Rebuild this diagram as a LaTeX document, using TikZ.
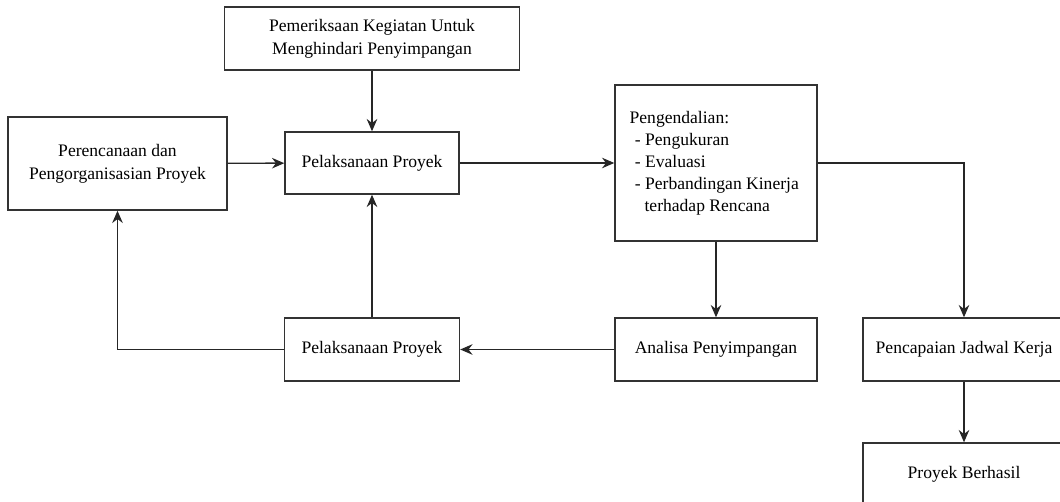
\documentclass[tikz,border=0pt]{standalone}
\usepackage{fontspec}
\setmainfont{Liberation Serif}
\usetikzlibrary{arrows.meta,positioning,calc}

\begin{document}
\begin{tikzpicture}[x=0.02cm,y=-0.02cm,>={Stealth[length=7pt,width=6pt]},
  box/.style={draw=black!80,line width=0.8pt,fill=white,align=center,inner sep=2pt,
    font=\rmfamily\fontsize{10pt}{13pt}\selectfont},
  link/.style={->,line width=0.8pt,draw=black!85}]
\useasboundingbox (0,0) rectangle (1060,502);
\node[box,minimum width=295*0.02cm,minimum height=63*0.02cm] (check) at (372,38.5) {Pemeriksaan Kegiatan Untuk\\Menghindari Penyimpangan};
\node[box,minimum width=219*0.02cm,minimum height=93*0.02cm] (plan) at (117.5,163.5) {Perencanaan dan\\Pengorganisasian Proyek};
\node[box,minimum width=174*0.02cm,minimum height=62*0.02cm] (exec) at (372,163) {Pelaksanaan Proyek};
\node[box,align=left,font=\rmfamily\fontsize{10pt}{12.5pt}\selectfont,minimum width=202*0.02cm,minimum height=156*0.02cm] (ctrl) at (716,163) {\hspace*{-2pt}Pengendalian:\\\hspace*{1pt}- Pengukuran\\\hspace*{1pt}- Evaluasi\\\hspace*{1pt}- Perbandingan Kinerja\\\hspace*{6.5pt}terhadap Rencana};
\node[box,minimum width=175*0.02cm,minimum height=63*0.02cm] (execb) at (372,349.5) {Pelaksanaan Proyek};
\node[box,minimum width=202*0.02cm,minimum height=63*0.02cm] (analysis) at (716,349.5) {Analisa Penyimpangan};
\node[box,minimum width=202*0.02cm,minimum height=63*0.02cm] (sched) at (964,349.5) {Pencapaian Jadwal Kerja};
\node[box,minimum width=202*0.02cm,minimum height=63*0.02cm] (done) at (964,474.5) {Proyek Berhasil};
\draw[link] (check) -- (exec);
\draw[link] (plan) -- (exec);
\draw[link] (exec) -- (ctrl);
\draw[link] (ctrl) -- (analysis);
\draw[link] (ctrl.east) -| (sched.north);
\draw[link] (analysis) -- (execb);
\draw[link] (execb) -- (exec);
\draw[link] (execb.west) -| (plan.south);
\draw[link] (sched) -- (done);
\end{tikzpicture}
\end{document}
